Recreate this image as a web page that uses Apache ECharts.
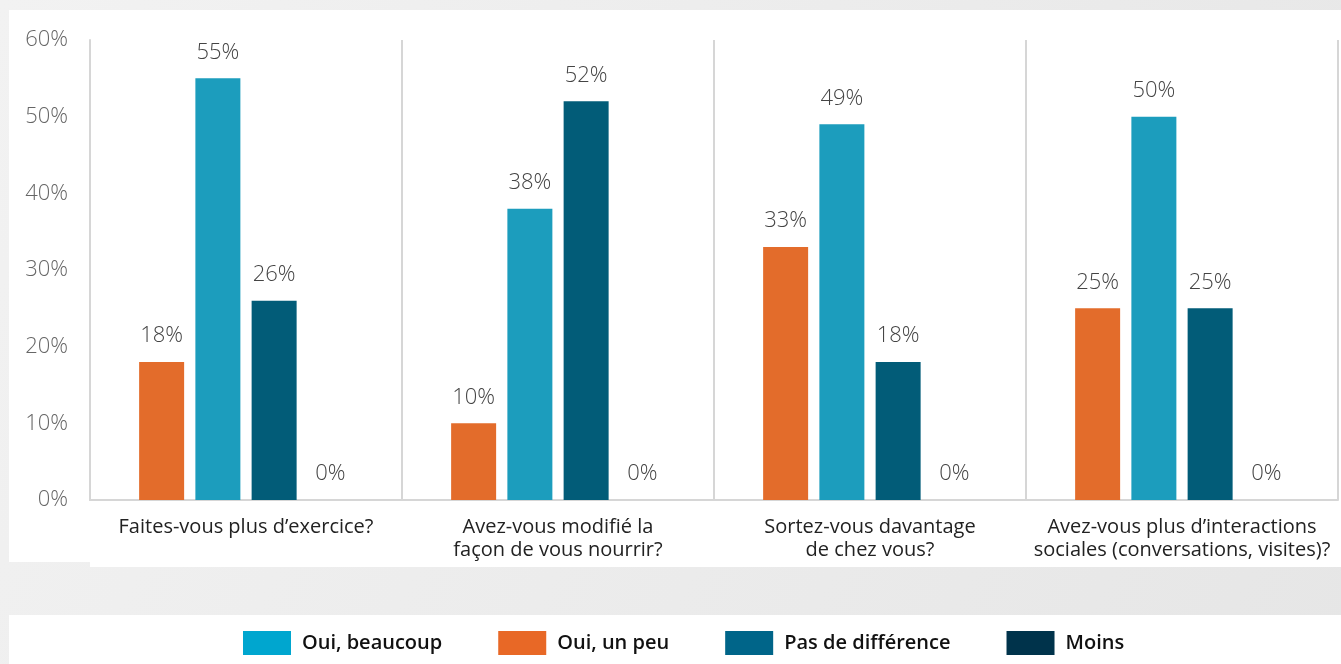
<!DOCTYPE html>
<html>
<head>
<meta charset="utf-8">
<script src="https://cdn.jsdelivr.net/npm/echarts@6/dist/echarts.min.js"></script>
<style>
  html, body { margin: 0; padding: 0; }
  #chart { width: 1341px; height: 664px; }
</style>
</head>
<body>
<div id="chart"></div>
<script>
// Survey questions (x axis categories)
const categories = [
  'Faites-vous plus d\u2019exercice?',
  'Avez-vous modifié la\nfaçon de vous nourrir?',
  'Sortez-vous davantage\nde chez vous?',
  'Avez-vous plus d\u2019interactions\nsociales (conversations, visites)?'
];

// Share of answers per question, in percent
const ouiUnPeu = [18, 10, 33, 25];
const ouiBeaucoup = [55, 38, 49, 50];
const pasDeDifference = [26, 52, 18, 25];
const moins = [0, 0, 0, 0];

// Y axis range
const yMin = 0;
const yMax = 60;
const yStep = 10;

const barColors = {
  'Oui, un peu': '#E36C2B',
  'Oui, beaucoup': '#1C9DBD',
  'Pas de différence': '#025C78',
  'Moins': '#003049'
};
const legendColors = {
  'Oui, beaucoup': '#00A6CF',
  'Oui, un peu': '#E86826',
  'Pas de différence': '#006589',
  'Moins': '#00334B'
};

const FONT = '"Open Sans", Roboto, sans-serif';

const chart = echarts.init(document.getElementById('chart'));

function barSeries(name, data) {
  return {
    name: name,
    type: 'bar',
    data: data,
    barWidth: 45,
    barGap: '25%',
    itemStyle: { color: barColors[name] },
    label: {
      show: true,
      position: 'top',
      distance: 15,
      formatter: '{c}%',
      fontFamily: FONT,
      fontWeight: 300,
      fontSize: 22,
      color: '#444'
    }
  };
}

chart.setOption({
  backgroundColor: {
    type: 'linear', x: 0, y: 0, x2: 1, y2: 1,
    colorStops: [
      { offset: 0, color: '#f2f2f2' },
      { offset: 1, color: '#e6e6e6' }
    ]
  },
  animation: false,
  graphic: [
    {
      type: 'rect',
      z: -10,
      shape: { x: 9, y: 10, width: 1332, height: 552 },
      style: { fill: '#ffffff' }
    },
    {
      type: 'rect',
      z: -10,
      shape: { x: 90, y: 500, width: 1251, height: 67 },
      style: { fill: '#ffffff' }
    },
    {
      type: 'rect',
      z: -10,
      shape: { x: 9, y: 615, width: 1332, height: 49 },
      style: { fill: '#ffffff' }
    }
  ],
  grid: { left: 90, right: 3, top: 40, bottom: 164, containLabel: false },
  legend: {
    bottom: 9,
    left: 243,
    padding: 0,
    itemWidth: 48,
    itemHeight: 24,
    itemGap: 56,
    icon: 'rect',
    textStyle: {
      fontFamily: FONT,
      fontWeight: 600,
      fontSize: 20,
      color: '#111',
      padding: [0, 0, 0, 6]
    },
    data: ['Oui, beaucoup', 'Oui, un peu', 'Pas de différence', 'Moins'].map(n => ({
      name: n,
      itemStyle: { color: legendColors[n] }
    }))
  },
  xAxis: {
    type: 'category',
    data: categories,
    axisLine: { lineStyle: { color: '#d6d6d6', width: 2 } },
    axisTick: { show: false },
    splitLine: { show: true, lineStyle: { color: '#d6d6d6', width: 2 } },
    axisLabel: {
      margin: 16,
      fontFamily: FONT,
      fontSize: 20,
      lineHeight: 23,
      color: '#222',
      interval: 0
    }
  },
  yAxis: {
    type: 'value',
    min: yMin,
    max: yMax,
    interval: yStep,
    axisLine: { show: true, lineStyle: { color: '#d6d6d6', width: 2 } },
    axisTick: { show: false },
    splitLine: { show: false },
    axisLabel: {
      margin: 22,
      formatter: '{value}%',
      fontFamily: FONT,
      fontWeight: 300,
      fontSize: 22,
      color: '#666'
    }
  },
  series: [
    barSeries('Oui, un peu', ouiUnPeu),
    barSeries('Oui, beaucoup', ouiBeaucoup),
    barSeries('Pas de différence', pasDeDifference),
    barSeries('Moins', moins)
  ]
});
</script>
</body>
</html>
